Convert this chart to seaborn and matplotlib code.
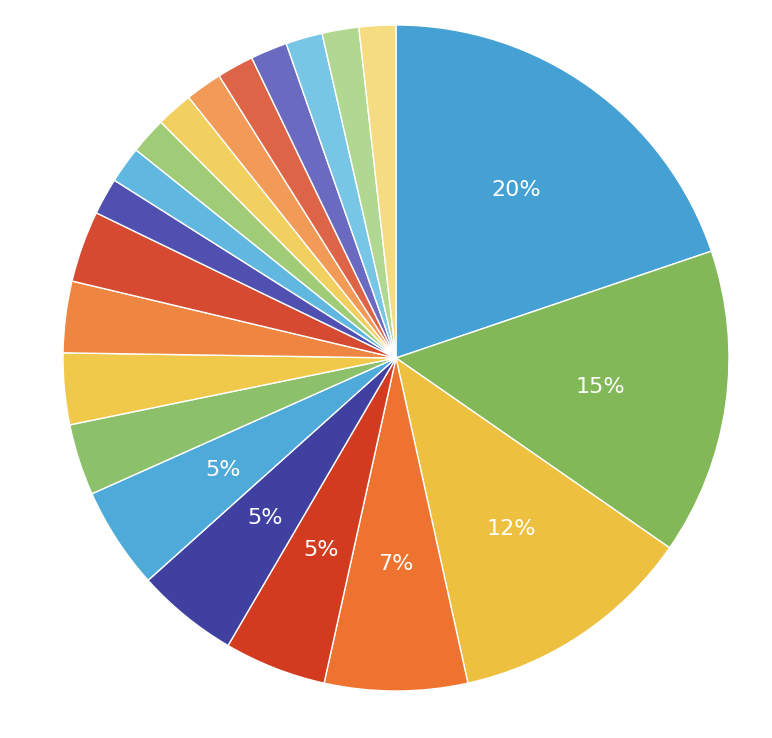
import matplotlib
matplotlib.use("Agg")
import matplotlib.pyplot as plt
import seaborn as sns

sns.set_theme(style="white")

# slice values, clockwise from 12 o'clock
values = [20, 15, 12, 7, 5, 5, 5, 3.5, 3.5, 3.5, 3.5,
          1.8, 1.8, 1.8, 1.8, 1.8, 1.8, 1.8, 1.8, 1.8, 1.8]
labels = ["20%", "15%", "12%", "7%", "5%", "5%", "5%"] + [""] * 14
colors = ["#45A0D3", "#82B858", "#EEC040", "#EE7330", "#D23B20", "#3F40A0",
          "#4EAAD8", "#8DC06A", "#F0C84A", "#EE8540", "#D54A30", "#5050B0",
          "#60B8E0", "#A0CC78", "#F2D060", "#F29A58", "#DE6448", "#6A6AC0",
          "#78C6E6", "#B0D890", "#F5DC80"]

fig = plt.figure(figsize=(7.72, 7.38), dpi=100)
ax = fig.add_axes([0.0, 0.0, 1.0, 1.0])
wedges, texts = ax.pie(values, colors=colors, startangle=90, counterclock=False,
                       labels=labels, labeldistance=0.62,
                       textprops=dict(color="white", fontsize=16))
for t in texts:
    t.set_ha("center")
    t.set_va("center")
ax.set_aspect("equal")
# place pie: center ~ (396, 358) px, radius ~333 px
W, H = 772, 738
cx, cy, r = 396, 358, 333
ax.set_xlim(-cx / r, (W - cx) / r)
ax.set_ylim(-(H - cy) / r, cy / r)
ax.axis("off")
fig.savefig("out.png", dpi=100)
